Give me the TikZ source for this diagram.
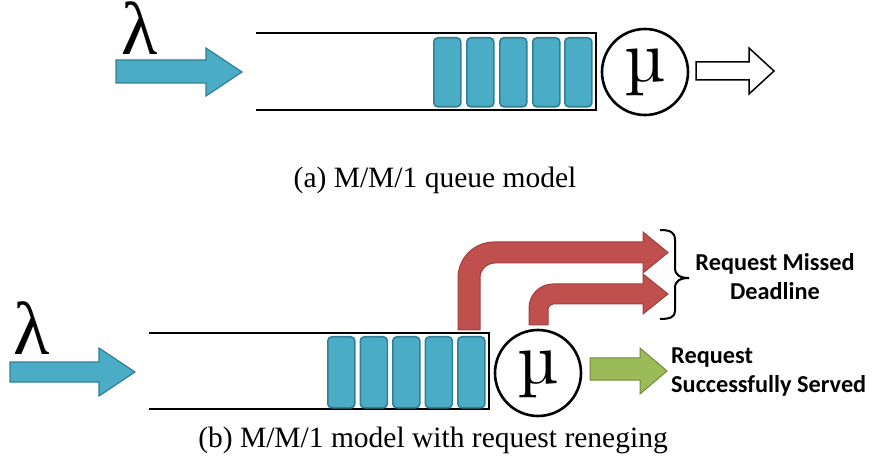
\documentclass[tikz,border=0pt]{standalone}
\usepackage{fontspec}
\setmainfont{Liberation Serif}
\newfontfamily\labelfont{Carlito}
\newfontfamily\lmfont{lmroman10-regular.otf}
\definecolor{qfill}{RGB}{75,172,198}
\definecolor{qedge}{RGB}{47,128,150}
\definecolor{rfill}{RGB}{192,80,77}
\definecolor{redge}{RGB}{160,62,59}
\definecolor{gfill}{RGB}{155,187,89}
\definecolor{gedge}{RGB}{113,137,63}
\begin{document}
\begin{tikzpicture}[x=1pt,y=-1pt,
  queueline/.style={line width=2.6pt,line cap=rect},
  job/.style={draw=qedge,fill=qfill,line width=1.6pt,rounded corners=4pt,
    minimum width=27pt,minimum height=69pt,inner sep=0pt},
  server/.style={draw,line width=2.6pt,circle,minimum size=86pt,inner sep=0pt},
  mu/.style={font=\lmfont\fontsize{74}{74}\selectfont,inner sep=0pt,anchor=base},
  rate/.style={inner sep=0pt,anchor=base,text height=0.7em,font=\fontsize{75}{75}\selectfont},
  inarrow/.style={draw=qedge,fill=qfill,line width=1.2pt,line join=miter},
  outarrow/.style={draw,fill=white,line width=1.5pt,line join=miter},
  renege/.style={draw=redge,fill=rfill,line width=1pt,line join=miter},
  served/.style={draw=gedge,fill=gfill,line width=1pt,line join=miter},
  caption/.style={inner sep=0pt,anchor=base,font=\fontsize{29.5}{29.5}\selectfont},
  outlabel/.style={inner sep=0pt,font=\labelfont\bfseries\fontsize{24.3}{24.3}\selectfont}]
\useasboundingbox (0,0) rectangle (873,470);

% ---------- (a) M/M/1 queue ----------
\node[rate] (lamA) at (140,55) {λ};
\draw[inarrow] (116,60) -- (206,60) -- (206,48) -- (242,72) -- (206,96) -- (206,83) -- (116,83) -- cycle;
\draw[queueline] (257,33) -- (596,33) -- (596,110) -- (257,110);
\foreach \x [count=\i] in {433,466,499,532,564}
  \node[job,anchor=north west] (jobA\i) at (\x,37) {};
\node[server] (srvA) at (645,72) {};
\node[mu] (muA) at (645,82) {µ};
\draw[outarrow] (696,62) -- (749,62) -- (749,48) -- (774,71) -- (749,94) -- (749,80) -- (696,80) -- cycle;
\node[caption] (capA) at (435,188) {(a) M/M/1 queue model};

% ---------- (b) M/M/1 with reneging ----------
\node[rate] (lamB) at (32,355) {λ};
\draw[inarrow] (10,362) -- (99,362) -- (99,348) -- (135,372) -- (99,396) -- (99,382) -- (10,382) -- cycle;
\draw[queueline] (150,333) -- (489,333) -- (489,409) -- (150,409);
\foreach \x [count=\i] in {327,359.5,392,424.5,457}
  \node[job,anchor=north west,minimum height=71pt] (jobB\i) at (\x,336) {};
\node[server] (srvB) at (538,373) {};
\node[mu] (muB) at (538,383) {µ};

% requests leaving the queue before service
\draw[renege] (458,330) -- (458,278) .. controls (458,258.1) and (474.1,242) .. (494,242)
  -- (643,242) -- (643,232) -- (668,252.5) -- (643,273) -- (643,263) -- (495,263)
  .. controls (486.7,263) and (480,269.7) .. (480,278) -- (480,330) -- cycle;
\draw[renege] (529,325) -- (529,308) .. controls (529,294.7) and (539.7,284) .. (553,284)
  -- (643,284) -- (643,274) -- (668,294) -- (643,314) -- (643,304) -- (553,304)
  .. controls (550.2,304) and (548,306.8) .. (548,309) -- (548,325) -- cycle;
\draw[line width=2pt] (660,230) .. controls (670,230) and (675,232) .. (675,240) -- (675,268)
  .. controls (675,275) and (680,278) .. (689,278)
  .. controls (680,278) and (675,281) .. (675,288) -- (675,311)
  .. controls (675,317) and (670,319) .. (660,319);
\node[outlabel,anchor=base] (missA) at (775,271) {Request Missed};
\node[outlabel,anchor=base] (missB) at (775,300) {Deadline};

% requests completing service
\draw[served] (590,358) -- (640,358) -- (640,348) -- (667,371) -- (640,394) -- (640,380) -- (590,380) -- cycle;
\node[outlabel,anchor=base west] (okA) at (671,363) {Request};
\node[outlabel,anchor=base west] (okB) at (671,392) {Successfully Served};

\node[caption] (capB) at (433,447) {(b) M/M/1 model with request reneging};
\end{tikzpicture}
\end{document}
